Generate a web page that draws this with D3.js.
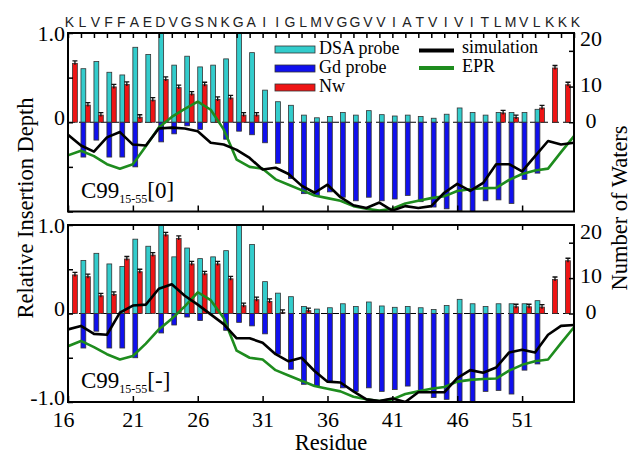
<!DOCTYPE html>
<html><head><meta charset="utf-8">
<script src="https://cdn.jsdelivr.net/npm/d3@7"></script>
<style>body{margin:0;background:#fff} svg{display:block}</style>
</head><body><svg id="c" width="632" height="455"></svg>
<script>
// ---------- data ----------
const residues = [16,17,18,19,20,21,22,23,24,25,26,27,28,29,30,31,32,33,34,35,36,37,38,39,40,41,42,43,44,45,46,47,48,49,50,51,52,53,54,55];
const sequence = ["K","L","V","F","F","A","E","D","V","G","S","N","K","G","A","I","I","G","L","M","V","G","G","V","V","I","A","T","V","I","V","I","T","L","M","V","L","K","K","K"];
const xTicks = [16,21,26,31,36,41,46,51];
const depthTicks = [-1,-0.5,0,0.5,1];
const waterTicks = [0,10,20];
// DSA probe (relative insertion depth, positive)
const dsa = [null,0.60,0.68,0.56,0.53,0.84,0.76,1.00,0.64,0.74,0.62,0.64,0.71,1.00,0.78,0.36,0.23,0.19,0.08,0.05,0.065,0.11,0.08,0.13,0.085,0.07,0.08,0.065,0.045,0.09,0.16,0.11,0.08,0.11,0.11,0.11,0.145,null,null,null];
// Gd probe (negative)
const gd = [null,-0.39,-0.20,-0.39,-0.39,-0.50,null,-0.22,-0.13,-0.04,-0.08,null,-0.19,-0.10,-0.14,-0.23,-0.46,-0.63,-0.80,-0.82,-0.78,-0.84,-0.88,-0.84,-0.88,-0.86,-0.82,-0.89,-0.95,-0.97,-0.99,-1.00,-0.88,-0.87,-0.91,-0.64,-0.57,null,null,null];
// EPR, as drawn in each panel
const eprNeutral = [-0.37,-0.32,-0.38,-0.47,-0.52,-0.47,-0.27,-0.06,0.06,0.15,0.23,0.14,-0.08,-0.42,-0.50,-0.52,-0.64,-0.70,-0.76,-0.82,-0.85,-0.88,-0.94,-0.97,-0.99,-0.97,-0.91,-0.88,-0.85,-0.83,-0.77,-0.75,-0.74,-0.735,-0.645,-0.58,-0.54,-0.52,-0.335,-0.155];
const eprCharged = [-0.37,-0.31,-0.38,-0.46,-0.52,-0.48,-0.34,-0.18,-0.06,0.08,0.24,0.15,-0.05,-0.42,-0.50,-0.52,-0.64,-0.70,-0.76,-0.82,-0.85,-0.88,-0.94,-0.97,-0.99,-0.97,-0.91,-0.88,-0.85,-0.83,-0.77,-0.75,-0.74,-0.735,-0.645,-0.58,-0.54,-0.52,-0.335,-0.155];
// simulation, C99 15-55 [0]
const simNeutral = [-0.14,-0.26,-0.33,-0.17,-0.11,-0.25,-0.26,-0.07,-0.06,-0.07,-0.10,-0.23,-0.25,-0.31,-0.40,-0.53,-0.51,-0.58,-0.71,-0.79,-0.70,-0.84,-0.93,-0.96,-0.90,-0.99,-0.94,-0.96,-0.94,-0.79,-0.69,-0.77,-0.68,-0.47,-0.47,-0.55,-0.38,-0.21,-0.25,-0.23];
// simulation, C99 15-55 [-]
const simCharged = [-0.18,-0.14,-0.23,-0.24,0.01,0.09,0.10,0.28,0.33,0.20,0.10,-0.01,-0.12,-0.28,-0.28,-0.33,-0.46,-0.54,-0.50,-0.65,-0.77,-0.78,-0.88,-0.97,-0.99,-0.96,-1.00,-0.89,-0.89,-0.89,-0.73,-0.64,-0.67,-0.61,-0.44,-0.41,-0.44,-0.24,-0.14,-0.13];
// number of waters
const nwNeutral = [16.5,4.8,2.0,9.9,10.6,1.4,6.2,12.0,9.7,7.9,10.5,6.4,6.8,2.0,2.0,0,0,0,0,0,0,0,0,0,0,0,0,0,0,0,0,0,0,2.6,1.3,0,4.0,15.2,10.5,null];
const nwCharged = [10.9,10.4,5.0,5.4,15.4,11.8,16.5,22.2,21.2,14.0,11.2,14.0,9.8,2.2,3.9,3.4,0.3,0,0.8,0,0,0,0,0,0,0,0,0,0,0,0,0,0,0,1.9,1.9,1.8,9.6,14.9,null];

// ---------- layout ----------
const xL = 68, xR = 574;
const serif = "'Liberation Serif','Times New Roman',serif";
const C = {dsa:"#33CCCC", gd:"#1010EE", nw:"#EE1515", epr:"#1E8C1E", sim:"#000"};
const panels = [
  {top:33, bot:211.5, sim:simNeutral, epr:eprNeutral, nw:nwNeutral, tag:"[0]", minus:false, first:true},
  {top:225, bot:402, sim:simCharged, epr:eprCharged, nw:nwCharged, tag:"[-]", minus:true, first:false}
];
const x = d3.scaleLinear().domain([16,55]).range([xL,xR]);
const bw = x(16.37) - x(16);
const svg = d3.select("#c");
const defs = svg.append("defs");

panels.forEach((p,i) => {
  const y = d3.scaleLinear().domain([-1,1]).range([p.bot,p.top]);
  const yN = d3.scaleLinear().domain([0,25]).range([y(0),p.top]);
  defs.append("clipPath").attr("id","clip"+i).append("rect")
    .attr("x",xL).attr("y",p.top).attr("width",xR-xL).attr("height",p.bot-p.top);
  const data = residues.map((r,j)=>({r, dsa:dsa[j], gd:gd[j], nw:p.nw[j], sim:p.sim[j], epr:p.epr[j]}));
  const g = svg.append("g").attr("clip-path",`url(#clip${i})`);
  g.append("line").attr("x1",xL).attr("x2",xR).attr("y1",y(0)).attr("y2",y(0))
    .attr("stroke","#000").attr("stroke-width",1).attr("stroke-dasharray","7,4");
  g.selectAll(".dsa").data(data.filter(d=>d.dsa!=null)).join("rect")
    .attr("x",d=>x(d.r)).attr("width",bw)
    .attr("y",d=>y(d.dsa)).attr("height",d=>y(0)-y(d.dsa))
    .attr("fill",C.dsa).attr("stroke","#333").attr("stroke-width",0.8);
  g.selectAll(".gd").data(data.filter(d=>d.gd!=null)).join("rect")
    .attr("x",d=>x(d.r)).attr("width",bw)
    .attr("y",y(0)).attr("height",d=>y(d.gd)-y(0))
    .attr("fill",C.gd).attr("stroke","#333").attr("stroke-width",0.8);
  const red = data.filter(d=>d.nw!=null && d.nw>0);
  g.selectAll(".nw").data(red).join("rect")
    .attr("x",d=>x(d.r+0.35)).attr("width",bw)
    .attr("y",d=>yN(d.nw)).attr("height",d=>yN(0)-yN(d.nw))
    .attr("fill",C.nw).attr("stroke","#333").attr("stroke-width",0.8);
  g.selectAll(".cap").data(red).join("path")
    .attr("d",d=>{const cx=x(d.r+0.35)+bw/2, t=yN(d.nw); return `M${cx-2.5},${t-2.5}H${cx+2.5}M${cx},${t-2.5}V${t+1.5}`;})
    .attr("stroke","#111").attr("stroke-width",1.3).attr("fill","none");
  g.append("path").datum(data).attr("fill","none").attr("stroke",C.epr).attr("stroke-width",2.6)
    .attr("stroke-linejoin","round").attr("d",d3.line().x(d=>x(d.r)).y(d=>y(d.epr)));
  g.append("path").datum(data).attr("fill","none").attr("stroke",C.sim).attr("stroke-width",2.6)
    .attr("stroke-linejoin","round").attr("d",d3.line().x(d=>x(d.r)).y(d=>y(d.sim)));

  // frame
  svg.append("rect").attr("x",xL).attr("y",p.top).attr("width",xR-xL).attr("height",p.bot-p.top)
    .attr("fill","none").attr("stroke","#000").attr("stroke-width",2);

  // axes
  const styleAx = a => { a.select(".domain").remove(); a.selectAll("line").attr("stroke","#000").attr("stroke-width",1.5);
    a.selectAll("text").attr("font-family",serif).attr("font-size",22).attr("fill","#000"); };
  const top = svg.append("g").attr("transform",`translate(0,${p.top})`)
    .call(d3.axisTop(x).tickValues(p.first ? residues : xTicks.slice(1)).tickSize(-5).tickFormat(""));
  styleAx(top);
  const bottom = svg.append("g").attr("transform",`translate(0,${p.bot})`)
    .call(d3.axisBottom(x).tickValues(xTicks).tickSize(-6).tickPadding(9).tickFormat(p.first ? "" : d3.format("d")));
  styleAx(bottom);
  bottom.selectAll("text").attr("dy","0.71em").attr("dx",d=>d===16?-5:0);
  const left = svg.append("g").attr("transform",`translate(${xL},0)`)
    .call(d3.axisLeft(y).tickValues(depthTicks).tickSize(-5).tickPadding(3)
      .tickFormat(d => d===1 ? "1.0" : d===0 ? "0" : (d===-1 && p.minus) ? "-1.0" : ""));
  styleAx(left);
  left.selectAll("text").attr("dy",d => d===0 ? "0.1em" : d===-1 ? "0.12em" : "0.32em");
  const right = svg.append("g").attr("transform",`translate(${xR},0)`)
    .call(d3.axisRight(yN).tickValues(waterTicks).tickSize(-5).tickFormat(d3.format("d")));
  styleAx(right);
  right.selectAll("text").attr("text-anchor","middle").attr("x",17).attr("dy","0.22em")
    .attr("transform",d => d===20 ? `translate(0,${p.first?-10.5:-9})` : null);

  // panel label
  const lab = svg.append("text").attr("x",81).attr("y",p.first?198:388)
    .attr("font-family",serif).attr("font-size",23).attr("fill","#000");
  lab.append("tspan").text("C99");
  lab.append("tspan").attr("font-size",12).attr("dy",5).text("15-55");
  lab.append("tspan").attr("dy",-5).text(p.tag);
});

// sequence letters
svg.append("g").selectAll("text").data(residues).join("text")
  .attr("x",r=>x(r)+1.5).attr("y",27).attr("text-anchor","middle")
  .attr("font-family","'Liberation Sans',Arial,sans-serif").attr("font-size",14).attr("fill","#222")
  .text((r,j)=>sequence[j]);

// legend
const leg = svg.append("g").attr("font-family",serif).attr("font-size",18).attr("fill","#000");
[["DSA probe",C.dsa,53],["Gd probe",C.gd,72],["Nw",C.nw,91]].forEach(([t,c,yb])=>{
  leg.append("rect").attr("x",275).attr("y",yb-7).attr("width",40).attr("height",7)
    .attr("fill",c).attr("stroke","#333").attr("stroke-width",0.8);
  leg.append("text").attr("x",319).attr("y",yb+1).text(t);
});
[["simulation",C.sim,50.5,53],["EPR",C.epr,68,72]].forEach(([t,c,yl,yb])=>{
  leg.append("line").attr("x1",419).attr("x2",454).attr("y1",yl).attr("y2",yl)
    .attr("stroke",c).attr("stroke-width",4);
  leg.append("text").attr("x",462).attr("y",yb).text(t);
});

// axis titles
svg.append("text").attr("transform","translate(33,208) rotate(-90)").attr("text-anchor","middle")
  .attr("font-family",serif).attr("font-size",22.5).text("Relative Insertion Depth");
svg.append("text").attr("transform","translate(627,208) rotate(-90)").attr("text-anchor","middle")
  .attr("font-family",serif).attr("font-size",22.5).text("Number of Waters");
svg.append("text").attr("x",331).attr("y",450).attr("text-anchor","middle")
  .attr("font-family",serif).attr("font-size",22.5).text("Residue");
</script></body></html>
